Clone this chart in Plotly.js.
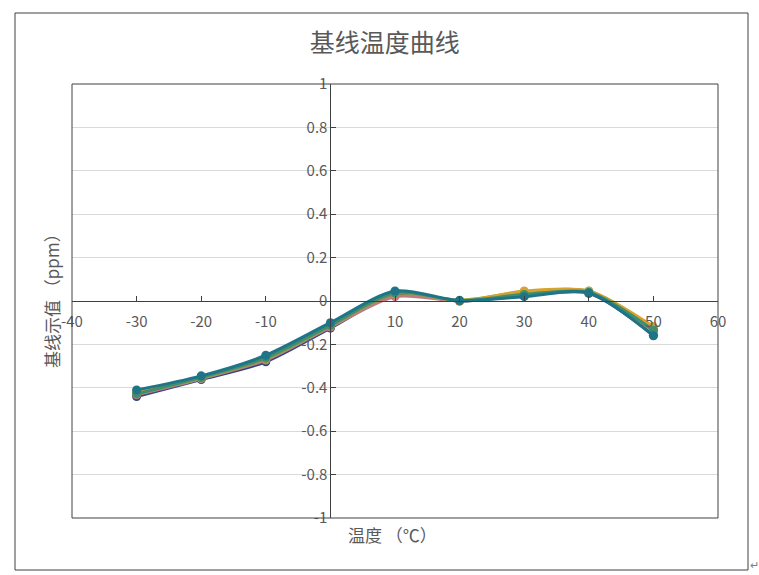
<!DOCTYPE html>
<html>
<head>
<meta charset="utf-8">
<script src="https://cdn.plot.ly/plotly-3.0.1.min.js"></script>
<style>html,body{margin:0;padding:0;background:#fff;}#chart{width:759px;height:575px;}</style>
</head>
<body>
<div id="chart"></div>
<script>
const temps = [-30, -20, -10, 0, 10, 20, 30, 40, 50];
const seriesNavy   = [-0.440, -0.362, -0.280, -0.125, 0.028, 0.000, 0.025, 0.035, -0.158];
const seriesRose   = [-0.432, -0.358, -0.272, -0.120, 0.020, 0.000, 0.030, 0.040, -0.140];
const seriesOlive  = [-0.425, -0.355, -0.266, -0.115, 0.035, 0.004, 0.042, 0.046, -0.125];
const seriesOrange = [-0.420, -0.350, -0.260, -0.110, 0.040, 0.000, 0.046, 0.045, -0.118];
const seriesGreen  = [-0.428, -0.352, -0.262, -0.112, 0.038, 0.002, 0.030, 0.040, -0.135];
const seriesTeal   = [-0.410, -0.345, -0.250, -0.100, 0.046, 0.002, 0.020, 0.037, -0.160];
const seriesList = [seriesNavy, seriesRose, seriesOlive, seriesOrange, seriesGreen, seriesTeal];
const seriesColors = ['#34447f', '#c27a82', '#8ea23c', '#d9a22e', '#3f8f6c', '#1f7488'];

const xTickVals = [-40, -30, -20, -10, 10, 20, 30, 40, 50, 60];
const xTickText = ['-40', '-30', '-20', '-10', '10', '20', '30', '40', '50', '60'];
const yTickVals = [-1, -0.8, -0.6, -0.4, -0.2, 0, 0.2, 0.4, 0.6, 0.8, 1];
const yTickText = ['-1', '-0.8', '-0.6', '-0.4', '-0.2', '0', '0.2', '0.4', '0.6', '0.8', '1'];

const titleText = '基线温度曲线';
const xTitleText = '温度 （℃）';
const yTitleText = '基线示值 （ppm）';

const FONT = '"Noto Sans CJK SC", "Microsoft YaHei", sans-serif';
const GRAY = '#595959';

const traces = seriesList.map((vals, i) => ({
  x: temps, y: vals, type: 'scatter', mode: 'lines+markers',
  line: {color: seriesColors[i], width: 3, shape: 'spline', smoothing: 0.8},
  marker: {color: seriesColors[i], size: 9, symbol: 'circle'},
  showlegend: false, hoverinfo: 'x+y'
}));

// geometry in paper coords (plot area 72..718 x 84..518)
const L = 72, R = 41, T = 84, B = 57, W = 759 - L - R, H = 575 - T - B;
const px = v => (v - L) / W;
const py = v => (575 - B - v) / H;

const layout = {
  width: 759, height: 575,
  margin: {l: L, r: R, t: T, b: B, pad: 0},
  paper_bgcolor: '#ffffff', plot_bgcolor: '#ffffff',
  font: {family: FONT, color: GRAY, size: 15},
  showlegend: false,
  title: {text: titleText, font: {family: FONT, size: 25, color: GRAY},
          x: 0.507, xanchor: 'center', y: 1 - 43 / 575, yanchor: 'middle', xref: 'container', yref: 'container'},
  xaxis: {
    range: [-40, 60], anchor: 'free', position: 0.5,
    tickmode: 'array', tickvals: xTickVals, ticktext: xTickText,
    showgrid: false, zeroline: false, showline: true, linecolor: '#404040', linewidth: 1,
    ticks: 'inside', ticklen: 5, tickcolor: '#404040', ticklabelstandoff: 7,
    tickfont: {family: FONT, size: 15, color: GRAY}
  },
  yaxis: {
    range: [-1, 1], anchor: 'free', position: 0.4,
    tickmode: 'array', tickvals: yTickVals, ticktext: yTickText,
    showgrid: true, gridcolor: '#d9d9d9', gridwidth: 1,
    zeroline: false, showline: true, linecolor: '#404040', linewidth: 1,
    ticks: 'inside', ticklen: 5, tickcolor: '#404040',
    tickfont: {family: FONT, size: 15, color: GRAY}
  },
  shapes: [
    {type: 'rect', xref: 'paper', yref: 'paper', x0: 0, x1: 1, y0: 0, y1: 1,
     line: {color: '#404040', width: 1}, layer: 'above'},
    {type: 'rect', xref: 'paper', yref: 'paper', x0: px(15), x1: px(748), y0: py(570), y1: py(13),
     line: {color: '#404040', width: 1}, layer: 'below'}
  ],
  annotations: [
    {text: xTitleText, xref: 'paper', yref: 'paper', x: px(392), y: py(534),
     xanchor: 'center', yanchor: 'middle', showarrow: false,
     font: {family: FONT, size: 17, color: GRAY}},
    {text: yTitleText, xref: 'paper', yref: 'paper', x: px(51), y: py(297),
     xanchor: 'center', yanchor: 'middle', showarrow: false, textangle: -90,
     font: {family: FONT, size: 17, color: GRAY}},
    {text: '↵', xref: 'paper', yref: 'paper', x: px(754), y: py(564),
     xanchor: 'center', yanchor: 'middle', showarrow: false,
     font: {family: FONT, size: 11, color: '#7f7f7f'}}
  ]
};

Plotly.newPlot('chart', traces, layout, {displayModeBar: false, staticPlot: true});
</script>
</body>
</html>
